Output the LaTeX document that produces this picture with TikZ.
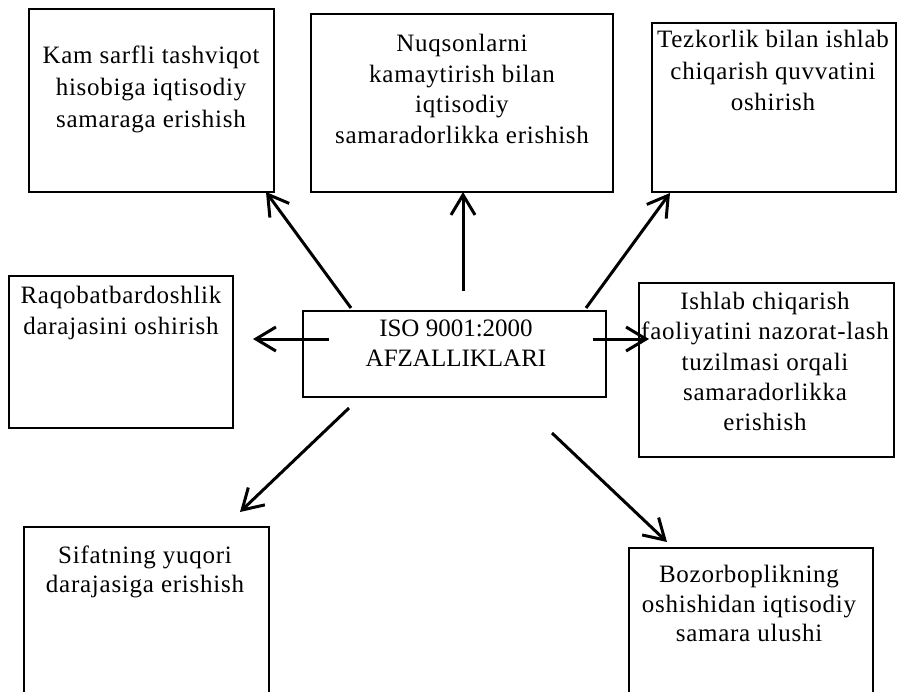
\documentclass[tikz,border=0pt]{standalone}
\usepackage{fontspec}
\setmainfont{Liberation Serif}
\newfontfamily\boxfont[LetterSpace=3]{Liberation Serif}
\usetikzlibrary{arrows.meta,calc}

\begin{document}
\begin{tikzpicture}[x=1pt,y=-1pt,
  box/.style={draw, rectangle, line width=2pt, inner sep=0pt},
  txt/.style={align=center, inner sep=0pt, anchor=north,
    font=\boxfont\fontsize{25}{#1}\selectfont},
  txt/.default=31,
  hub/.style={align=center, inner sep=0pt, anchor=north,
    font=\fontsize{25}{30}\selectfont},
  arr/.style={line width=3pt, -{Straight Barb[length=20pt,width=24pt]}}
]
\useasboundingbox (0,0) rectangle (897,691);
\clip (0,0) rectangle (897,691);

% frames
\node[box, minimum width=245pt, minimum height=183pt] (b1) at (151.5,100.5) {};
\node[box, minimum width=302pt, minimum height=178pt] (b2) at (462,103) {};
\node[box, minimum width=244pt, minimum height=169pt] (b3) at (774,107.5) {};
\node[box, minimum width=224pt, minimum height=152pt] (b4) at (121,352) {};
\node[box, minimum width=303pt, minimum height=86pt]  (b5) at (454.5,354) {};
\node[box, minimum width=255pt, minimum height=174pt] (b6) at (766.5,370) {};
\node[box, minimum width=245pt, minimum height=193pt] (b7) at (146.5,623.5) {};
\node[box, minimum width=244pt, minimum height=172pt] (b8) at (751,634) {};

% captions
\node[txt=32] (t1) at (151,46) {Kam sarfli tashviqot\\hisobiga iqtisodiy\\samaraga erishish};
\node[txt=30.7] (t2) at (462,34) {Nuqsonlarni\\kamaytirish bilan\\iqtisodiy\\samaradorlikka\ erishish};
\node[txt=31.5] (t3) at (773,30) {Tezkorlik bilan ishlab\\chiqarish quvvatini\\oshirish};
\node[txt=31] (t4) at (121,286) {Raqobatbardoshlik\\darajasini oshirish};
\node[hub] (t5) at (456,320) {ISO 9001:2000\\AFZALLIKLARI};
\node[txt=30.3] (t6) at (765,292) {Ishlab chiqarish\\faoliyatini nazorat-lash\\tuzilmasi orqali\\samaradorlikka\\erishish};
\node[txt=29] (t7) at (145,546) {Sifatning yuqori\\darajasiga erishish};
\node[txt=29.5] (t8) at (749,565) {Bozorboplikning\\oshishidan iqtisodiy\\samara ulushi};

% arrows from the central frame
\draw[arr] ($(b5.north west)+(49,-2)$) -- ($(b1.south east)+(-9,-1)$);
\draw[arr] ($(b5.north)+(8.5,-19)$) -- ($(b2.south)+(1,-1)$);
\draw[arr] ($(b5.north east)+(-21,-2)$) -- ($(b3.south west)+(19,0)$);
\draw[arr] ($(b5.west)+(27,-15)$) -- ($(b4.east)+(19,-13)$);
\draw[arr] ($(b5.east)+(-14,-15)$) -- ($(b6.west)+(11,-31)$);
\draw[arr] ($(b5.south west)+(47,10)$) -- ($(b7.north east)+(-30,-14)$);
\draw[arr] ($(b5.south)+(97.5,35)$) -- ($(b8.north west)+(39,-5)$);
\end{tikzpicture}
\end{document}
